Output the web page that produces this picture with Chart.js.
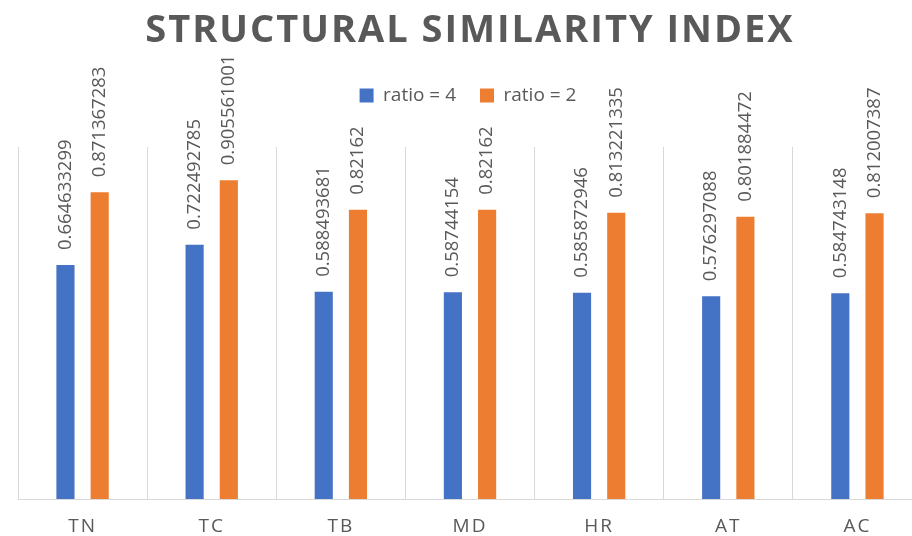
<!DOCTYPE html>
<html>
<head>
<meta charset="utf-8">
<title>Structural Similarity Index</title>
<script src="https://cdn.jsdelivr.net/npm/chart.js@4/dist/chart.umd.min.js"></script>
<style>
    html, body { margin: 0; padding: 0; background: #fff; overflow: hidden; }
    #wrap { width: 922px; height: 536px; }
</style>
</head>
<body>
<div id="wrap"><canvas id="ssimChart"></canvas></div>
<script>
// Data
const categories = ['TN', 'TC', 'TB', 'MD', 'HR', 'AT', 'AC'];
const ratio4 = [0.664633299, 0.722492785, 0.588493681, 0.58744154, 0.585872946, 0.576297088, 0.584743148];
const ratio2 = [0.871367283, 0.905561001, 0.82162, 0.82162, 0.813221335, 0.801884472, 0.812007387];

const textColor = '#595959';

// Spaced-out lettering for title and axis labels, none for legend and value labels
const spacing = {
    id: 'spacing',
    beforeDraw(chart) {
        const lg = chart.legend;
        if (lg && !lg._patched) {
            const orig = lg.draw;
            lg.draw = function () {
                const c = chart.ctx;
                c.save();
                c.letterSpacing = '0px';
                c.translate(-2, 0);
                orig.apply(this, arguments);
                c.restore();
            };
            lg._patched = true;
        }
        chart.ctx.letterSpacing = '2px';
    },
    beforeDatasetsDraw(chart) {
        chart.ctx.letterSpacing = '0px';
    },
    afterDraw(chart) {
        chart.ctx.letterSpacing = '0px';
    }
};

// Vertical value labels above every bar
const valueLabels = {
    id: 'valueLabels',
    afterDatasetsDraw(chart) {
        const ctx = chart.ctx;
        chart.data.datasets.forEach((ds, i) => {
            const meta = chart.getDatasetMeta(i);
            meta.data.forEach((bar, j) => {
                ctx.save();
                ctx.letterSpacing = '0px';
                ctx.translate(bar.x, bar.y - 15);
                ctx.rotate(-Math.PI / 2);
                ctx.font = '18.5px "Open Sans"';
                ctx.fillStyle = textColor;
                ctx.textAlign = 'left';
                ctx.textBaseline = 'middle';
                ctx.fillText(String(ds.data[j]), 0, 0);
                ctx.restore();
            });
        });
    }
};

const ctx = document.getElementById('ssimChart').getContext('2d');
const ssimChart = new Chart(ctx, {
    type: 'bar',
    data: {
        labels: categories,
        datasets: [
            {
                label: 'ratio = 4',
                data: ratio4,
                backgroundColor: '#4472C4',
                categoryPercentage: 0.53,
                barPercentage: 0.53
            },
            {
                label: 'ratio = 2',
                data: ratio2,
                backgroundColor: '#ED7D31',
                categoryPercentage: 0.53,
                barPercentage: 0.53
            }
        ]
    },
    options: {
        responsive: true,
        maintainAspectRatio: false,
        animation: false,
        layout: {
            padding: { left: 18, right: 0, top: 2, bottom: 0 }
        },
        plugins: {
            title: {
                display: true,
                text: 'STRUCTURAL SIMILARITY INDEX',
                color: textColor,
                font: { family: 'Open Sans', size: 38, weight: 'bold', lineHeight: 1 },
                padding: { top: 10, bottom: 12 }
            },
            legend: {
                position: 'top',
                labels: {
                    color: textColor,
                    font: { family: 'Open Sans', size: 19 },
                    boxWidth: 14,
                    boxHeight: 14,
                    padding: 24
                }
            },
            tooltip: { enabled: false }
        },
        scales: {
            x: {
                grid: {
                    color: '#d9d9d9',
                    drawTicks: false
                },
                border: { color: '#d9d9d9' },
                ticks: {
                    color: textColor,
                    font: { family: 'Open Sans', size: 19, lineHeight: 1 },
                    padding: 18
                },
                afterFit(scale) {
                    scale.height = 37;
                }
            },
            // empty top axis, only keeps room between legend and plot
            spacer: {
                type: 'category',
                position: 'top',
                labels: [''],
                grid: { display: false },
                border: { display: false },
                ticks: { display: false },
                afterFit(scale) {
                    scale.height = 32;
                }
            },
            y: {
                display: false,
                min: 0,
                max: 1
            }
        }
    },
    plugins: [spacing, valueLabels]
});
</script>
</body>
</html>
